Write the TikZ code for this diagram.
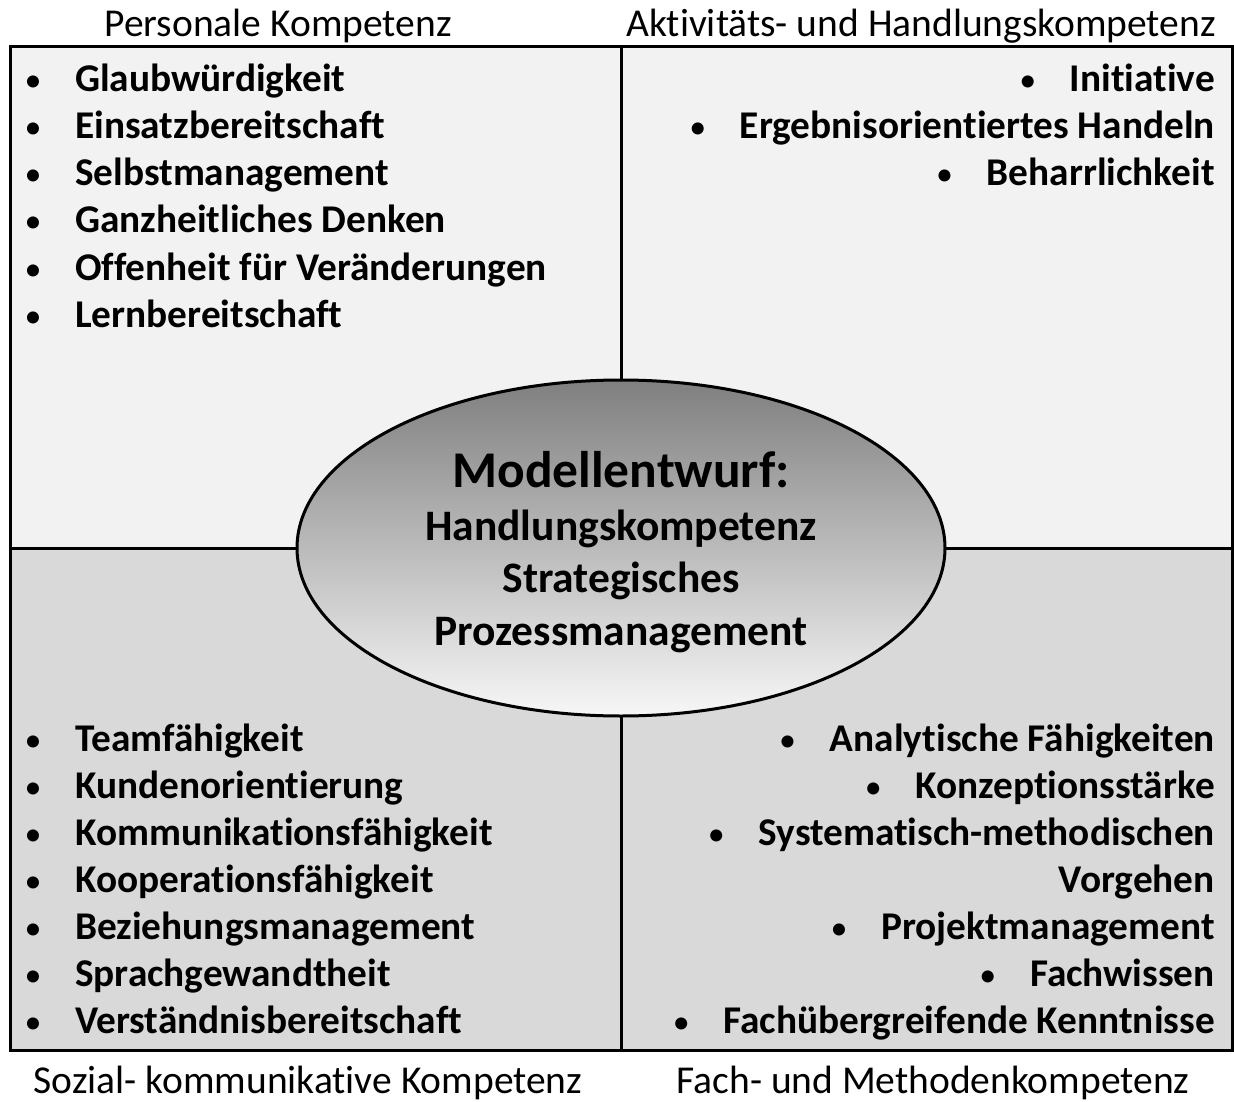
\documentclass[tikz,border=0pt]{standalone}
\usepackage{fontspec}
\setmainfont{Carlito}[Ligatures=NoCommon]
\usetikzlibrary{calc,shapes.geometric}
\definecolor{paneltop}{HTML}{F2F2F2}
\definecolor{panelbottom}{HTML}{D9D9D9}
\definecolor{coredark}{HTML}{7F7F7F}
\definecolor{corelight}{HTML}{F7F7F7}
\begin{document}
\begin{tikzpicture}[x=1pt,y=-1pt,
  frame/.style={line width=3pt,draw=black},
  item/.style={inner sep=0pt,font=\fontsize{39.3}{47}\selectfont\bfseries},
  bul/.style={inner sep=0pt,anchor=base,font=\fontsize{34}{47}\selectfont},
  head/.style={inner sep=0pt,anchor=base,font=\fontsize{39.5}{47}\selectfont},
  coretxt/.style={inner sep=0pt,anchor=base,font=\fontsize{43.5}{52}\selectfont\bfseries},
  corestyle/.style={ellipse,line width=3pt,draw=black,inner sep=0pt,
    minimum width=648pt,minimum height=336pt,
    top color=coredark,bottom color=corelight,shading angle=0}]
\useasboundingbox (0,0) rectangle (1234,1102);

% quadrant backgrounds
\fill[paneltop] (10,47) rectangle (1232,548);
\fill[panelbottom] (10,548) rectangle (1232,1050);
\coordinate (tl) at (10,47);
\coordinate (br) at (1232,1050);
\coordinate (mt) at (621,47);
\coordinate (mb) at (621,1050);
\coordinate (ml) at (10,548);
\coordinate (mr) at (1232,548);
\draw[frame] (mt) -- (mb);
\draw[frame] (ml) -- (mr);
\draw[frame] (tl) rectangle (br);

% central ellipse
\node[corestyle] (core) at (621,548) {};
\node[coretxt,font=\fontsize{51.5}{60}\selectfont\bfseries] (c1) at (621,487) {Modellentwurf:};
\node[coretxt] (c2) at (621,540) {Handlungskompetenz};
\node[coretxt] (c3) at (621,592) {Strategisches};
\node[coretxt] (c4) at (621,645) {Prozessmanagement};

% headings
\node[head] (h1) at (278,37) {Personale Kompetenz};
\node[head] (h2) at (921,37) {Aktivitäts- und Handlungskompetenz};
\node[head] (h3) at (308,1093) {Sozial- kommunikative Kompetenz};
\node[head] (h4) at (933,1093) {Fach- und Methodenkompetenz};

% personal competences
\foreach \t [count=\i] in {Glaubwürdigkeit,Einsatzbereitschaft,Selbstmanagement,Ganzheitliches Denken,Offenheit für Veränderungen,Lernbereitschaft}{
  \node[item,anchor=base west] (pk\i) at (75,{92+47*(\i-1)}) {\t};
  \node[bul] (pkb\i) at ($(pk\i.base west)+(-42,0)$) {•};
}

% activity competences
\foreach \t [count=\i] in {Initiative,Ergebnisorientiertes Handeln,Beharrlichkeit}{
  \node[item,anchor=base east] (ak\i) at (1215,{92+47*(\i-1)}) {\t};
  \node[bul] (akb\i) at ($(ak\i.base west)+(-42,0)$) {•};
}

% social competences
\foreach \t [count=\i] in {Teamfähigkeit,Kundenorientierung,Kommunikationsfähigkeit,Kooperationsfähigkeit,Beziehungsmanagement,Sprachgewandtheit,Verständnisbereitschaft}{
  \node[item,anchor=base west] (sk\i) at (75,{751+47*(\i-1)}) {\t};
  \node[bul] (skb\i) at ($(sk\i.base west)+(-42,0)$) {•};
}

% methodical competences
\node[item,anchor=base east] (fk1) at (1215,751) {Analytische Fähigkeiten};
\node[item,anchor=base east] (fk2) at (1215,798) {Konzeptionsstärke};
\node[item,anchor=base east] (fk3) at (1215,845) {Systematisch-methodischen};
\node[item,anchor=base east] (fk3b) at (1215,892) {Vorgehen};
\node[item,anchor=base east] (fk4) at (1215,939) {Projektmanagement};
\node[item,anchor=base east] (fk5) at (1215,986) {Fachwissen};
\node[item,anchor=base east] (fk6) at (1215,1033) {Fachübergreifende Kenntnisse};
\foreach \n in {fk1,fk2,fk3,fk4,fk5,fk6}{
  \node[bul] (\n b) at ($(\n.base west)+(-42,0)$) {•};
}
\end{tikzpicture}
\end{document}
